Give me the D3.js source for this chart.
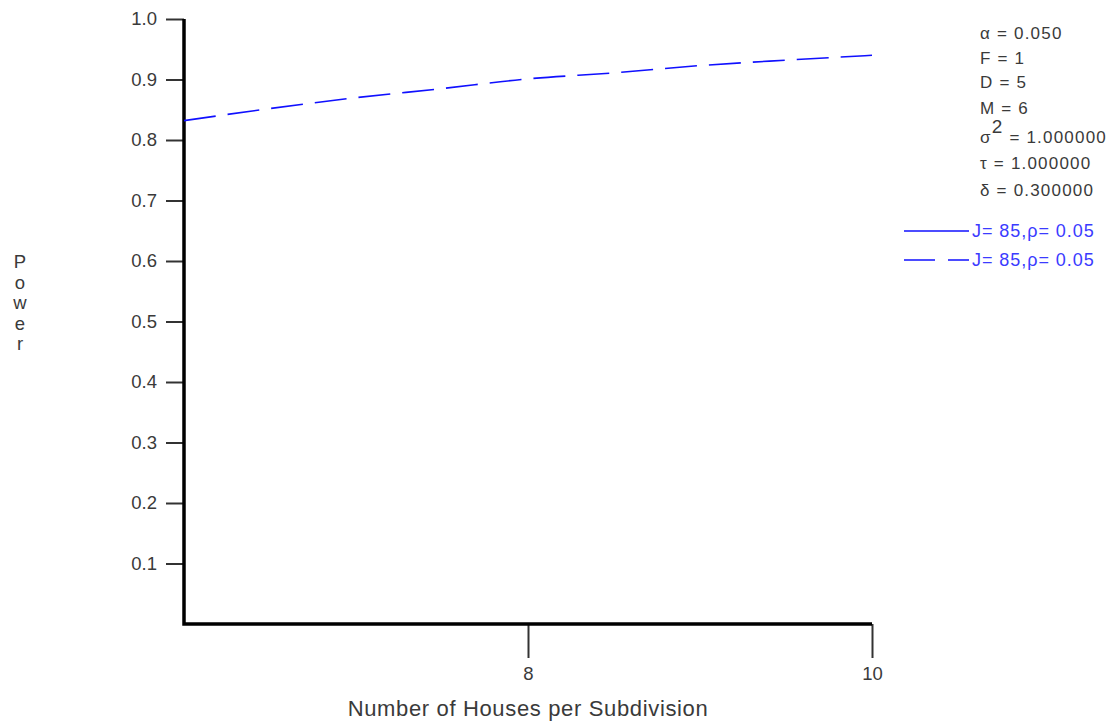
<!DOCTYPE html>
<html>
<head>
<meta charset="utf-8">
<script src="https://cdn.jsdelivr.net/npm/d3@7"></script>
<style>
  html, body { margin: 0; padding: 0; background: #fff; }
  svg { display: block; font-family: Arial, "Liberation Sans", sans-serif; }
</style>
</head>
<body>
<svg id="chart" width="1109" height="723"></svg>
<script>
// Houses per subdivision (x) and the resulting power (dashed curve)
const houses = [6, 6.5, 7, 7.5, 8, 8.5, 9, 9.5, 10];
const power  = [0.832, 0.852, 0.870, 0.885, 0.901, 0.911, 0.923, 0.932, 0.940];

const xTicks = [8, 10];
const yTicks = [0.1, 0.2, 0.3, 0.4, 0.5, 0.6, 0.7, 0.8, 0.9, 1.0];

const params = [
  { base: "α = 0.050" },
  { base: "F = 1" },
  { base: "D = 5" },
  { base: "M = 6" },
  { base: "σ", sup: "2", rest: " = 1.000000" },
  { base: "τ = 1.000000" },
  { base: "δ = 0.300000" }
];
const legendItems = [
  { label: "J= 85,ρ= 0.05", dash: null },
  { label: "J= 85,ρ= 0.05", dash: "31,13" }
];

const svg = d3.select("#chart");
const plotLeft = 184, plotRight = 872, plotTop = 19, plotBottom = 624;

const x = d3.scaleLinear().domain([6, 10]).range([plotLeft, plotRight]);
const y = d3.scaleLinear().domain([0, 1]).range([plotBottom, plotTop]);

const tickColor = "#333";
const textColor = "#3a3a3a";
const lineBlue = "#1010ff";
const textBlue = "#3b3bff";

// y axis
const yAxis = svg.append("g")
  .attr("transform", `translate(${plotLeft},0)`)
  .call(d3.axisLeft(y).tickValues(yTicks).tickFormat(d3.format(".1f")).tickSize(18).tickPadding(9));
yAxis.select(".domain").remove();
yAxis.selectAll(".tick line").attr("stroke", tickColor).attr("stroke-width", 2);
yAxis.selectAll(".tick text").attr("fill", textColor).style("font-size", "18.5px")
  .style("font-family", "Arial, 'Liberation Sans', sans-serif");

// x axis
const xAxis = svg.append("g")
  .attr("transform", `translate(0,${plotBottom})`)
  .call(d3.axisBottom(x).tickValues(xTicks).tickFormat(d3.format("d")).tickSize(34).tickPadding(9));
xAxis.select(".domain").remove();
xAxis.selectAll(".tick line").attr("stroke", tickColor).attr("stroke-width", 2);
xAxis.selectAll(".tick text").attr("fill", textColor).style("font-size", "18.5px")
  .style("font-family", "Arial, 'Liberation Sans', sans-serif");

// heavy axis frame lines
svg.append("path")
  .attr("d", `M${plotLeft},${y(1)}V${plotBottom}H${plotRight}`)
  .attr("fill", "none").attr("stroke", "#000").attr("stroke-width", 3.5);

// dashed power curve
const line = d3.line()
  .x((d, i) => x(houses[i]))
  .y(d => y(d))
  .curve(d3.curveMonotoneX);
svg.append("path")
  .datum(power)
  .attr("d", line)
  .attr("fill", "none")
  .attr("stroke", lineBlue)
  .attr("stroke-width", 1.6)
  .attr("stroke-dasharray", "32,12");

// axis titles
svg.append("text")
  .attr("x", x(8)).attr("y", 716)
  .attr("text-anchor", "middle")
  .attr("fill", textColor)
  .style("font-size", "22px")
  .style("letter-spacing", "0.65px")
  .text("Number of Houses per Subdivision");

const yTitle = "Power".split("");
svg.append("g").selectAll("text").data(yTitle).join("text")
  .attr("x", 20)
  .attr("y", (d, i) => 268 + i * 20.5)
  .attr("text-anchor", "middle")
  .attr("fill", textColor)
  .style("font-size", "18.5px")
  .text(d => d);

// parameter block
const pBase = [39, 64, 88, 114, 143, 169, 196];
const pg = svg.append("g").attr("fill", textColor)
  .style("font-size", "17px").style("letter-spacing", "1.2px");
params.forEach((p, i) => {
  const t = pg.append("text").attr("x", 980).attr("y", pBase[i]);
  t.append("tspan").text(p.base);
  if (p.sup) {
    t.append("tspan").attr("dy", -10).style("font-size", "19px").text(p.sup);
    t.append("tspan").attr("dy", 10).text(p.rest);
  }
});

// legend
const lg = svg.append("g");
legendItems.forEach((d, i) => {
  const ly = 231 + i * 29;
  lg.append("line")
    .attr("x1", 904).attr("x2", 969)
    .attr("y1", ly).attr("y2", ly)
    .attr("stroke", lineBlue).attr("stroke-width", 1.6)
    .attr("stroke-dasharray", d.dash);
  lg.append("text")
    .attr("x", 972).attr("y", ly + 6)
    .attr("fill", textBlue)
    .style("font-size", "18px")
    .style("letter-spacing", "0.95px")
    .text(d.label);
});
</script>
</body>
</html>
